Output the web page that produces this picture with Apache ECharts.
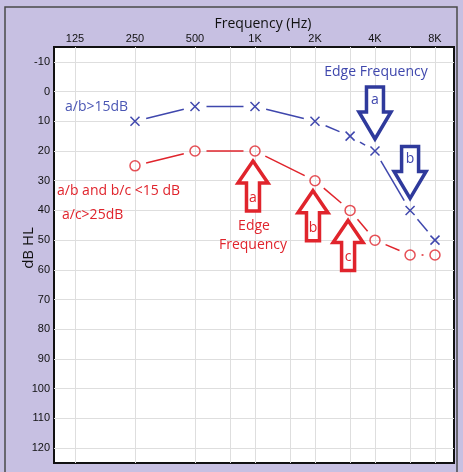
<!DOCTYPE html>
<html>
<head>
<meta charset="utf-8">
<script src="https://cdn.jsdelivr.net/npm/echarts@6/dist/echarts.min.js"></script>
<style>html,body{margin:0;padding:0;background:#c7c0e2;}#c{width:463px;height:472px;}</style>
</head>
<body>
<div id="c"></div>
<script>
// ---- data ----
const freqs = [250, 500, 1000, 2000, 3000, 4000, 6000, 8000];
const blueDb = [10, 5, 5, 10, 15, 20, 40, 50];
const redDb = [25, 20, 20, 30, 40, 50, 55, 55];
const xLabelFreqs = [125, 250, 500, 1000, 2000, 4000, 8000];
const xLabels = ['125', '250', '500', '1K', '2K', '4K', '8K'];
const gridFreqs = [125, 250, 500, 750, 1000, 1500, 2000, 3000, 4000, 6000, 8000];
const yTicks = [-10, 0, 10, 20, 30, 40, 50, 60, 70, 80, 90, 100, 110, 120];
const blueArrowFreqs = [4000, 6000];
const blueArrowLetters = ['a', 'b'];
const redArrowFreqs = [1000, 2000, 3000];
const redArrowLetters = ['a', 'b', 'c'];

// ---- helpers ----
const pos = f => Math.log2(f / 125);
const BLUE = '#3f47ad';
const ARROW_BLUE = '#2f3a9c';
const RED = '#e0242c';
const FONT = 'Open Sans';

function segData(db) {
  const out = [];
  for (let i = 0; i < freqs.length - 1; i++) out.push([pos(freqs[i]), db[i], pos(freqs[i + 1]), db[i + 1]]);
  return out;
}
function segRender(color, width) {
  return function (params, api) {
    const p1 = api.coord([api.value(0), api.value(1)]);
    const p2 = api.coord([api.value(2), api.value(3)]);
    const dx = p2[0] - p1[0], dy = p2[1] - p1[1];
    const len = Math.sqrt(dx * dx + dy * dy);
    const gap = 11.5;
    if (len <= 2 * gap + 1) return null;
    const ux = dx / len, uy = dy / len;
    return {
      type: 'line',
      shape: { x1: p1[0] + ux * gap, y1: p1[1] + uy * gap, x2: p2[0] - ux * gap, y2: p2[1] - uy * gap },
      style: { stroke: color, lineWidth: width }
    };
  };
}
function dbAt(db, f) { return db[freqs.indexOf(f)]; }

const blueArrowData = blueArrowFreqs.map((f, i) => [pos(f), dbAt(blueDb, f), i]);
const redArrowData = redArrowFreqs.map((f, i) => [pos(f), dbAt(redDb, f), i]);

const chart = echarts.init(document.getElementById('c'), null, { renderer: 'canvas' });
chart.setOption({
  backgroundColor: '#c7c0e2',
  animation: false,
  grid: { left: 54, top: 47, right: 9, bottom: 9, show: true, backgroundColor: '#ffffff', borderColor: '#111', borderWidth: 2 },
  xAxis: {
    type: 'value', position: 'top', min: -0.35, max: 6.317,
    axisLine: { show: false },
    axisTick: { show: false, customValues: gridFreqs.map(pos) },
    axisLabel: {
      customValues: xLabelFreqs.map(pos), margin: 3,
      formatter: v => { const i = xLabelFreqs.map(pos).findIndex(p => Math.abs(p - v) < 1e-6); return i >= 0 ? xLabels[i] : ''; },
      color: '#111', fontFamily: 'Liberation Sans', fontSize: 11
    },
    splitLine: { show: true, lineStyle: { color: '#dedede', width: 1 } }
  },
  yAxis: {
    type: 'value', inverse: true, min: -15, max: 125,
    axisLine: { show: false },
    axisTick: { show: false, customValues: yTicks },
    axisLabel: { customValues: yTicks, margin: 4, color: '#111', fontFamily: 'Liberation Sans', fontSize: 11 },
    splitLine: { show: true, lineStyle: { color: '#dedede', width: 1 } }
  },
  series: [
    { type: 'custom', data: segData(blueDb), encode: { x: [0, 2], y: [1, 3] }, renderItem: segRender(BLUE, 1.5), z: 2 },
    { type: 'custom', data: segData(redDb), encode: { x: [0, 2], y: [1, 3] }, renderItem: segRender(RED, 1.5), z: 2 },
    {
      type: 'custom', data: freqs.map((f, i) => [pos(f), blueDb[i]]), z: 3,
      renderItem: (params, api) => {
        const p = api.coord([api.value(0), api.value(1)]);
        const r = 4.5;
        return { type: 'group', children: [
          { type: 'line', shape: { x1: p[0] - r, y1: p[1] - r, x2: p[0] + r, y2: p[1] + r }, style: { stroke: BLUE, lineWidth: 1.5 } },
          { type: 'line', shape: { x1: p[0] - r, y1: p[1] + r, x2: p[0] + r, y2: p[1] - r }, style: { stroke: BLUE, lineWidth: 1.5 } }
        ] };
      }
    },
    {
      type: 'scatter', data: freqs.map((f, i) => [pos(f), redDb[i]]), symbol: 'circle', symbolSize: 10, z: 3,
      itemStyle: { color: 'rgba(255,255,255,0)', borderColor: RED, borderWidth: 1.5 }
    },
    {
      type: 'custom', data: redArrowData, z: 5,
      renderItem: (params, api) => {
        const p = api.coord([api.value(0), api.value(1)]);
        const cx = p[0] - 2, ty = p[1] + 10;
        const pts = [[0, 0], [15, 22], [6.5, 22], [6.5, 50], [-6.5, 50], [-6.5, 22], [-15, 22]].map(q => [cx + q[0], ty + q[1]]);
        return { type: 'group', children: [
          { type: 'polygon', shape: { points: pts }, style: { fill: '#fff', stroke: RED, lineWidth: 3.5, lineJoin: 'miter' } },
          { type: 'text', style: { text: redArrowLetters[api.value(2)], x: cx, y: ty + 37, align: 'center', verticalAlign: 'middle', fill: RED, font: '14px "' + FONT + '"' } }
        ] };
      }
    },
    {
      type: 'custom', data: blueArrowData, z: 5,
      renderItem: (params, api) => {
        const p = api.coord([api.value(0), api.value(1)]);
        const cx = p[0], ty = p[1] - 12;
        const pts = [[0, 0], [16, -27], [8.5, -27], [8.5, -52], [-8.5, -52], [-8.5, -27], [-16, -27]].map(q => [cx + q[0], ty + q[1]]);
        return { type: 'group', children: [
          { type: 'polygon', shape: { points: pts }, style: { fill: '#fff', stroke: ARROW_BLUE, lineWidth: 3.5, lineJoin: 'miter' } },
          { type: 'text', style: { text: blueArrowLetters[api.value(2)], x: cx, y: ty - 39, align: 'center', verticalAlign: 'middle', fill: BLUE, font: '14px "' + FONT + '"' } }
        ] };
      }
    }
  ],
  graphic: [
    { type: 'rect', shape: { x: 5, y: 7, width: 452, height: 480 }, style: { fill: 'none', stroke: '#4a4a4a', lineWidth: 1.5 }, z: 100, silent: true },
    { type: 'text', x: 263, y: 24, style: { text: 'Frequency (Hz)', align: 'center', verticalAlign: 'middle', fill: '#111', font: '14px "Open Sans"' } },
    { type: 'text', x: 29, y: 248, rotation: Math.PI / 2, style: { text: 'dB HL', align: 'center', verticalAlign: 'middle', fill: '#111', font: '15px "Open Sans"' } },
    { type: 'text', x: 376, y: 72, z: 50, style: { text: 'Edge Frequency', align: 'center', verticalAlign: 'middle', fill: BLUE, font: '14px "Open Sans"' } },
    { type: 'text', x: 65, y: 107, z: 50, style: { text: 'a/b>15dB', align: 'left', verticalAlign: 'middle', fill: '#4a56b4', font: '14px "Open Sans"' } },
    { type: 'text', x: 57, y: 191, z: 50, style: { text: 'a/b and b/c <15 dB', align: 'left', verticalAlign: 'middle', fill: RED, font: '14px "Open Sans"' } },
    { type: 'text', x: 62, y: 215, z: 50, style: { text: 'a/c>25dB', align: 'left', verticalAlign: 'middle', fill: RED, font: '14px "Open Sans"' } },
    { type: 'text', x: 254, y: 226, z: 50, style: { text: 'Edge', align: 'center', verticalAlign: 'middle', fill: RED, font: '14px "Open Sans"' } },
    { type: 'text', x: 253, y: 245, z: 50, style: { text: 'Frequency', align: 'center', verticalAlign: 'middle', fill: RED, font: '14px "Open Sans"' } }
  ]
});
</script>
</body>
</html>
